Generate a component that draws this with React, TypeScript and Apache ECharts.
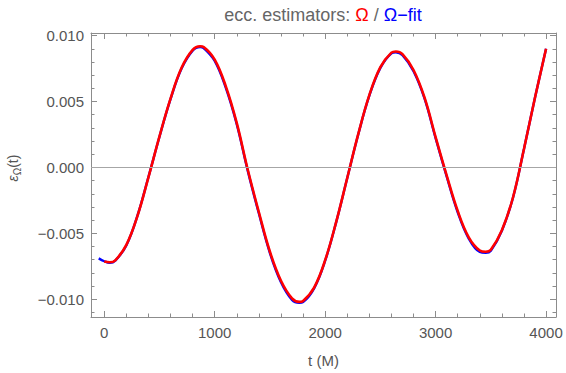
import React, { useEffect, useRef } from 'react';
import * as echarts from 'echarts';

// ---- data ----
const redT = [0, 50, 100, 200, 300, 400, 500, 600, 700, 800, 868, 900, 1000, 1100, 1200, 1300, 1400, 1500, 1600, 1700, 1766, 1800, 1900, 2000, 2100, 2200, 2300, 2400, 2500, 2600, 2640, 2700, 2800, 2900, 3000, 3100, 3200, 3300, 3400, 3454, 3500, 3600, 3700, 3800, 3900, 4000];
const redV = [-0.00714, -0.0072, -0.00705, -0.00588, -0.0037, -0.00075, 0.00235, 0.00522, 0.00756, 0.00892, 0.0092, 0.00914, 0.00818, 0.00617, 0.00336, -0.0002, -0.0034, -0.0064, -0.0086, -0.00994, -0.0102, -0.01013, -0.00912, -0.00704, -0.00413, -0.0008, 0.00254, 0.00548, 0.00761, 0.00871, 0.0088, 0.0086, 0.00739, 0.00529, 0.0023, -0.0006, -0.0033, -0.0053, -0.0063, -0.0064, -0.00625, -0.00476, -0.0023, 0.0014, 0.0053, 0.009];

const blueT = [-50, 0, 50, 100, 200, 300, 400, 500, 600, 700, 800, 868, 900, 1000, 1100, 1200, 1300, 1400, 1500, 1600, 1700, 1766, 1800, 1900, 2000, 2100, 2200, 2300, 2400, 2500, 2600, 2640, 2700, 2800, 2900, 3000, 3100, 3200, 3300, 3400, 3454, 3500, 3600, 3700, 3800, 3900, 4000];
const blueV = [-0.0069, -0.00712, -0.00724, -0.00707, -0.00592, -0.00368, -0.00073, 0.00233, 0.00518, 0.0075, 0.00886, 0.00914, 0.00906, 0.00808, 0.00605, 0.00326, -0.00028, -0.0035, -0.0065, -0.00872, -0.01006, -0.01028, -0.01022, -0.00918, -0.00708, -0.00415, -0.0008, 0.00252, 0.00544, 0.00755, 0.00866, 0.00874, 0.00852, 0.0073, 0.00522, 0.00222, -0.00068, -0.0034, -0.0054, -0.00642, -0.00648, -0.00632, -0.0048, -0.00232, 0.0014, 0.0053, 0.009];

const xMajorTicks = [0, 1000, 2000, 3000, 4000];
const yMajorTicks = [-0.01, -0.005, 0, 0.005, 0.01];

const xMinorTicks: number[] = [];
for (let i = 0; i <= 20; i++) xMinorTicks.push(i * 200);
const yMinorTicks: number[] = [];
for (let i = -11; i <= 10; i++) yMinorTicks.push(i / 1000);

const X_MIN = -120;
const X_MAX = 4090;
const Y_MIN = -0.01135;
const Y_MAX = 0.0102;

const FRAME = '#8c8c8c';
const LABEL = '#555555';
const FONT = '"Liberation Sans", Arial, sans-serif';

function fmtY(v: number) {
  const s = Math.abs(v).toFixed(3);
  return v < -1e-9 ? '\u2212' + s : s;
}

export default function App() {
  const ref = useRef<HTMLDivElement>(null);
  useEffect(() => {
    if (!ref.current) return;
    const chart = echarts.init(ref.current, undefined, { renderer: 'svg' });

    const xAxisBase = (position: 'top' | 'bottom', major: boolean, labels: boolean) => ({
      type: 'value',
      position,
      min: X_MIN,
      max: X_MAX,
      axisLine: { show: major, onZero: false, lineStyle: { color: FRAME, width: 1 } },
      axisTick: {
        show: true,
        inside: true,
        length: major ? 6 : 3.5,
        customValues: major ? xMajorTicks : xMinorTicks,
        lineStyle: { color: FRAME, width: 1 },
      },
      axisLabel: labels
        ? { show: true, customValues: xMajorTicks, color: LABEL, fontSize: 15, fontFamily: FONT, margin: 8, formatter: (v: number) => String(v) }
        : { show: false },
      splitLine: { show: false },
      ...(labels
        ? { name: 't (M)', nameLocation: 'middle', nameGap: 36, nameTextStyle: { color: LABEL, fontSize: 15, fontFamily: FONT } }
        : {}),
    });

    const yAxisBase = (position: 'left' | 'right', major: boolean, labels: boolean) => ({
      type: 'value',
      position,
      min: Y_MIN,
      max: Y_MAX,
      axisLine: { show: major, onZero: false, lineStyle: { color: FRAME, width: 1 } },
      axisTick: {
        show: true,
        inside: true,
        length: major ? 6 : 3.5,
        customValues: major ? yMajorTicks : yMinorTicks,
        lineStyle: { color: FRAME, width: 1 },
      },
      axisLabel: labels
        ? { show: true, customValues: yMajorTicks, color: LABEL, fontSize: 15, fontFamily: FONT, margin: 7, formatter: fmtY }
        : { show: false },
      splitLine: { show: false },
    });

    const toPairs = (t: number[], v: number[]) => t.map((tt, i) => [tt, v[i]]);

    chart.setOption({
      animation: false,
      grid: { left: 91, right: 10, top: 33, bottom: 53, containLabel: false },
      xAxis: [
        xAxisBase('bottom', true, true),
        xAxisBase('bottom', false, false),
        xAxisBase('top', true, false),
        xAxisBase('top', false, false),
      ],
      yAxis: [
        yAxisBase('left', true, true),
        yAxisBase('left', false, false),
        yAxisBase('right', true, false),
        yAxisBase('right', false, false),
      ],
      series: [
        {
          type: 'line',
          name: 'Ω−fit',
          xAxisIndex: 0,
          yAxisIndex: 0,
          data: toPairs(blueT, blueV),
          showSymbol: false,
          smooth: 0.4,
          lineStyle: { color: '#0000ff', width: 2.4 },
          itemStyle: { color: '#0000ff' },
          markLine: {
            silent: true,
            symbol: 'none',
            label: { show: false },
            lineStyle: { color: '#a6a6a6', width: 1.2, type: 'solid' },
            data: [{ yAxis: 0 }],
          },
          z: 2,
        },
        {
          type: 'line',
          name: 'Ω',
          xAxisIndex: 0,
          yAxisIndex: 0,
          data: toPairs(redT, redV),
          showSymbol: false,
          smooth: 0.4,
          lineStyle: { color: '#ff0000', width: 2.6 },
          itemStyle: { color: '#ff0000' },
          z: 3,
        },
      ],
      graphic: [
        {
          type: 'text',
          x: 323,
          y: 15,
          style: {
            text: '{g|ecc. estimators: }{r|Ω}{g| / }{b|Ω\u2212fit}',
            align: 'center',
            verticalAlign: 'middle',
            rich: {
              g: { fill: '#666666', fontSize: 18, fontFamily: FONT },
              r: { fill: '#ff0000', fontSize: 18, fontFamily: FONT },
              b: { fill: '#0000ff', fontSize: 18, fontFamily: FONT },
            },
          },
        },
        {
          type: 'text',
          x: 13,
          y: 168,
          rotation: Math.PI / 2,
          style: {
            text: '{e|ε}{s|Ω}{n|(t)}',
            align: 'center',
            verticalAlign: 'middle',
            rich: {
              e: { fill: LABEL, fontSize: 14, fontStyle: 'italic', fontFamily: FONT, lineHeight: 18, verticalAlign: 'middle' },
              s: { fill: LABEL, fontSize: 10, fontFamily: FONT, lineHeight: 18, verticalAlign: 'bottom' },
              n: { fill: LABEL, fontSize: 14, fontFamily: FONT, lineHeight: 18, verticalAlign: 'middle' },
            },
          },
        },
      ],
    });
    return () => chart.dispose();
  }, []);
  return <div ref={ref} style={{ width: 566, height: 373, position: 'absolute', left: 0, top: 0 }} />;
}
